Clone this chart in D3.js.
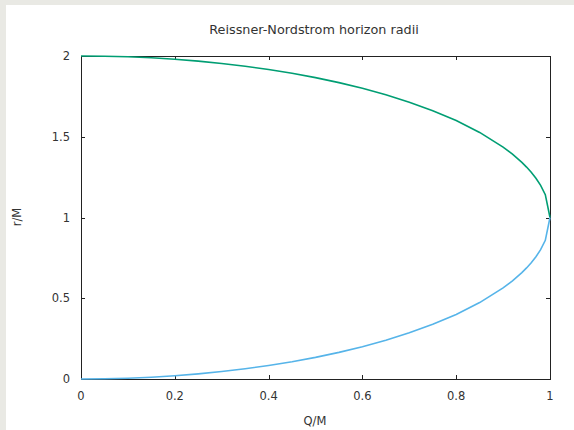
<!DOCTYPE html>
<html>
<head>
<meta charset="utf-8">
<script src="https://cdn.jsdelivr.net/npm/d3@7"></script>
<style>
  html, body { margin: 0; padding: 0; background: #e9e9e4; }
  #vis { position: absolute; left: 6px; top: 5px; width: 568px; height: 425px; background: #fff; }
  text { font-family: "DejaVu Sans", sans-serif; fill: #333; }
</style>
</head>
<body>
<div id="vis"></div>
<script>
// charge Q/M sampled along x
const qValues = [0, 0.05, 0.1, 0.15, 0.2, 0.25, 0.3, 0.35, 0.4, 0.45, 0.5, 0.55, 0.6, 0.65,
  0.7, 0.75, 0.8, 0.85, 0.9, 0.92, 0.94, 0.95, 0.96, 0.97, 0.98, 0.99, 1];
// outer horizon r+/M
const outerRadius = [2, 1.9988, 1.995, 1.9887, 1.9798, 1.9683, 1.9539, 1.9368, 1.9165, 1.893,
  1.866, 1.8352, 1.8, 1.7599, 1.7141, 1.6614, 1.6, 1.5268, 1.4359, 1.3919, 1.3412, 1.3123,
  1.28, 1.2431, 1.199, 1.1411, 1];
// inner horizon r-/M
const innerRadius = [0, 0.0012, 0.005, 0.0113, 0.0202, 0.0317, 0.0461, 0.0632, 0.0835, 0.107,
  0.134, 0.1648, 0.2, 0.2401, 0.2859, 0.3386, 0.4, 0.4732, 0.5641, 0.6081, 0.6588, 0.6877,
  0.72, 0.7569, 0.801, 0.8589, 1];
const xTicks = [0, 0.2, 0.4, 0.6, 0.8, 1];
const yTicks = [0, 0.5, 1, 1.5, 2];

const width = 574, height = 430;
// page coords, svg covers whole window
const svg = d3.select("body").append("svg")
  .attr("width", width)
  .attr("height", height)
  .style("position", "absolute").style("left", 0).style("top", 0);

const pLeft = 81, pRight = 550, pTop = 56, pBottom = 379;
const x = d3.scaleLinear().domain([0, 1]).range([pLeft, pRight]);
const y = d3.scaleLinear().domain([0, 2]).range([pBottom, pTop]);

// frame
svg.append("rect")
  .attr("x", pLeft + 0.5).attr("y", pTop + 0.5)
  .attr("width", pRight - pLeft).attr("height", pBottom - pTop)
  .attr("fill", "none").attr("stroke", "#222").attr("stroke-width", 1);

// ticks on all four sides, pointing inward
const tl = 4;
svg.append("g").selectAll("line").data(xTicks.slice(1, -1)).join("line")
  .attr("x1", d => Math.round(x(d)) + 0.5).attr("x2", d => Math.round(x(d)) + 0.5)
  .attr("y1", pBottom).attr("y2", pBottom - tl).attr("stroke", "#222");
svg.append("g").selectAll("line").data(xTicks.slice(1, -1)).join("line")
  .attr("x1", d => Math.round(x(d)) + 0.5).attr("x2", d => Math.round(x(d)) + 0.5)
  .attr("y1", pTop).attr("y2", pTop + tl).attr("stroke", "#222");
svg.append("g").selectAll("line").data(yTicks.slice(1, -1)).join("line")
  .attr("y1", d => Math.round(y(d)) + 0.5).attr("y2", d => Math.round(y(d)) + 0.5)
  .attr("x1", pLeft).attr("x2", pLeft + tl).attr("stroke", "#222");
svg.append("g").selectAll("line").data(yTicks.slice(1, -1)).join("line")
  .attr("y1", d => Math.round(y(d)) + 0.5).attr("y2", d => Math.round(y(d)) + 0.5)
  .attr("x1", pRight).attr("x2", pRight - tl).attr("stroke", "#222");

// tick labels
svg.append("g").selectAll("text").data(xTicks).join("text")
  .attr("x", d => x(d)).attr("y", pBottom + 21)
  .attr("text-anchor", "middle").style("font-size", "11.5px")
  .text(d => d3.format("~g")(d));
svg.append("g").selectAll("text").data(yTicks).join("text")
  .attr("x", pLeft - 11).attr("y", d => y(d) + 4)
  .attr("text-anchor", "end").style("font-size", "11.5px")
  .text(d => d3.format("~g")(d));

// titles
svg.append("text")
  .attr("x", 314).attr("y", 34)
  .attr("text-anchor", "middle").style("font-size", "12.8px")
  .text("Reissner-Nordstrom horizon radii");
svg.append("text")
  .attr("x", 315).attr("y", 425)
  .attr("text-anchor", "middle").style("font-size", "11.5px")
  .text("Q/M");
svg.append("text")
  .attr("transform", "translate(21,217) rotate(-90)")
  .attr("text-anchor", "middle").style("font-size", "11.5px")
  .text("r/M");

// curves
const line = d3.line().x(d => x(d[0])).y(d => y(d[1]));
svg.append("path")
  .datum(qValues.map((q, i) => [q, outerRadius[i]]))
  .attr("d", line).attr("fill", "none")
  .attr("stroke", "#009e73").attr("stroke-width", 1.6);
svg.append("path")
  .datum(qValues.map((q, i) => [q, innerRadius[i]]))
  .attr("d", line).attr("fill", "none")
  .attr("stroke", "#56b4e9").attr("stroke-width", 1.6);
</script>
</body>
</html>
